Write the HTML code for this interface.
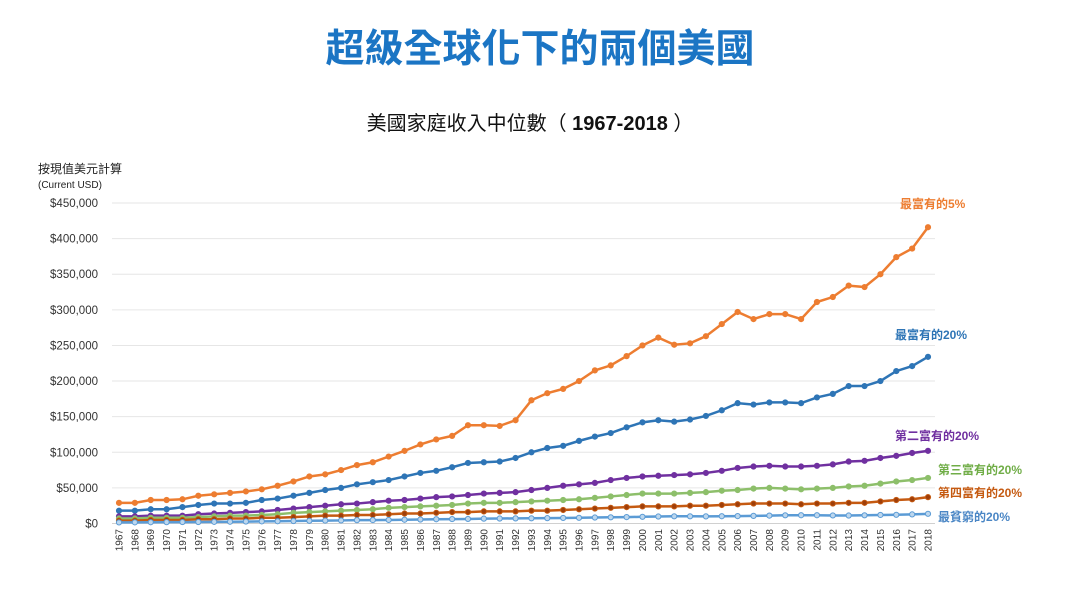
<!DOCTYPE html>
<html><head><meta charset="utf-8">
<style>
body{margin:0;background:#fff;width:1080px;height:598px;overflow:hidden;font-family:"Liberation Sans","Noto Sans CJK TC",sans-serif;}
svg text{font-family:"Liberation Sans","Noto Sans CJK TC",sans-serif;}
</style></head><body>
<svg id="chart" width="1080" height="598" xmlns="http://www.w3.org/2000/svg">
<text x="540" y="62" text-anchor="middle" font-size="39" font-weight="bold" fill="#1b75c4">超級全球化下的兩個美國</text>
<text x="530" y="130" text-anchor="middle" font-size="20" fill="#111">美國家庭收入中位數（ <tspan font-weight="bold">1967-2018</tspan> ）</text>
<text x="38" y="173" font-size="12" fill="#222">按現值美元計算</text>
<text x="38" y="188" font-size="10" fill="#222">(Current USD)</text>
<g id="grid"></g><g id="yt"></g><g id="xt"></g><g id="series"></g><g id="labels"></g>
</svg>
<script>
const years=[];for(let y=1967;y<=2018;y++)years.push(y);
const yTicks=[0,50000,100000,150000,200000,250000,300000,350000,400000,450000];
const top5=[29,29,33,33,34,39,41,43,45,48,53,59,66,69,75,82,86,94,102,111,118,123,138,138,137,145,173,183,189,200,215,222,235,250,261,251,253,263,280,297,287,294,294,287,311,318,334,332,350,374,386,416];
const top20=[18,18,20,20,23,26,28,28,29,33,35,39,43,47,50,55,58,61,66,71,74,79,85,86,87,92,100,106,109,116,122,127,135,142,145,143,146,151,159,169,167,170,170,169,177,182,193,193,200,214,221,234];
const second20=[10,10,11,11,11,13,14,15,16,17,19,21,23,25,27,28,30,32,33,35,37,38,40,42,43,44,47,50,53,55,57,61,64,66,67,68,69,71,74,78,80,81,80,80,81,83,87,88,92,95,99,102];
const third20=[7,7,8,8,8,9,10,11,11,12,13,15,16,17,18,19,20,22,23,24,25,26,28,29,29,30,31,32,33,34,36,38,40,42,42,42,43,44,46,47,49,50,49,48,49,50,52,53,56,59,61,64];
const fourth20=[4,4,5,5,5,6,6,7,7,8,8,9,10,11,11,12,12,13,14,14,15,16,16,17,17,17,18,18,19,20,21,22,23,24,24,24,25,25,26,27,28,28,28,27,28,28,29,29,31,33,34,37];
const bottom20=[1.5,1.6,1.8,1.9,2.0,2.1,2.3,2.5,2.7,3.0,3.2,3.5,3.8,4.1,4.3,4.7,4.8,5.0,5.3,5.6,6.0,6.2,6.4,6.8,7.0,7.2,7.3,7.5,7.8,8.0,8.4,8.7,9.0,9.4,9.8,10.1,10.1,10.0,10.2,10.4,10.7,11.1,11.5,11.6,11.6,11.3,11.2,11.5,12.0,12.2,12.8,13.6];
const NS="http://www.w3.org/2000/svg";
const X0=119,X1=928,Y0=523.5,Y1=203;
const xs=i=>X0+(X1-X0)*i/(years.length-1);
const ys=v=>Y0-(Y0-Y1)*v/450000;
function mk(t,a,p){const e=document.createElementNS(NS,t);for(const k in a)e.setAttribute(k,a[k]);p.appendChild(e);return e;}
const grid=document.getElementById('grid'),yt=document.getElementById('yt'),xt=document.getElementById('xt');
yTicks.forEach(v=>{
 const l=mk('line',{x1:112,x2:935,y1:ys(v),y2:ys(v),stroke:v===0?'#d0d0d0':'#e6e6e6','stroke-width':1},grid);
 
 
 const t=mk('text',{x:98,y:ys(v)+4,'text-anchor':'end','font-size':11.5,fill:'#333'},yt);
 t.textContent='$'+v.toLocaleString('en-US');
 
 
});
years.forEach((y,i)=>{
 const t=mk('text',{x:0,y:0,'text-anchor':'end','font-size':10,fill:'#333',transform:`translate(${xs(i)+3.5},529) rotate(-90)`},xt);
 t.textContent=y;
 
 
});
const S=[
 [top5,1000,'#ED7D31','#ED7D31','top-5-percent'],
 [top20,1000,'#2E75B6','#2E75B6','top-20-percent'],
 [second20,1000,'#7030A0','#7030A0','second-20-percent'],
 [third20,1000,'#8DBF6A','#8DBF6A','third-20-percent'],
 [fourth20,1000,'#C55A11','#9E3E0A','fourth-20-percent'],
 [bottom20,1000,'#5B9BD5','#BDD7EE','bottom-20-percent']];
const sg=document.getElementById('series');
S.forEach(([d,m,c,f,n])=>{
 const g=mk('g',{},sg);
 
 
 const p=mk('polyline',{points:d.map((v,i)=>xs(i)+','+ys(v*m)).join(' '),fill:'none',stroke:c,'stroke-width':2.5},g);
 
 
 d.forEach((v,i)=>{
  const pt=mk('circle',{cx:xs(i),cy:ys(v*m),r:2.6,fill:f,stroke:c,'stroke-width':1},g);
  
  
 });
});
const L=[['最富有的5%',900,208,'#ED7D31','label-top-5'],['最富有的20%',895,339,'#2E75B6','label-top-20'],['第二富有的20%',895,440,'#7030A0','label-second-20'],['第三富有的20%',938,474,'#70AD47','label-third-20'],['第四富有的20%',938,497,'#C55A11','label-fourth-20'],['最貧窮的20%',938,521,'#4A86C5','label-bottom-20']];
const lg=document.getElementById('labels');
L.forEach(([s,x,y,c,n])=>{
 const t=mk('text',{x:x,y:y,'font-size':12,'font-weight':'bold',fill:c},lg);
 t.textContent=s;
 
 
});
</script>
</body></html>
